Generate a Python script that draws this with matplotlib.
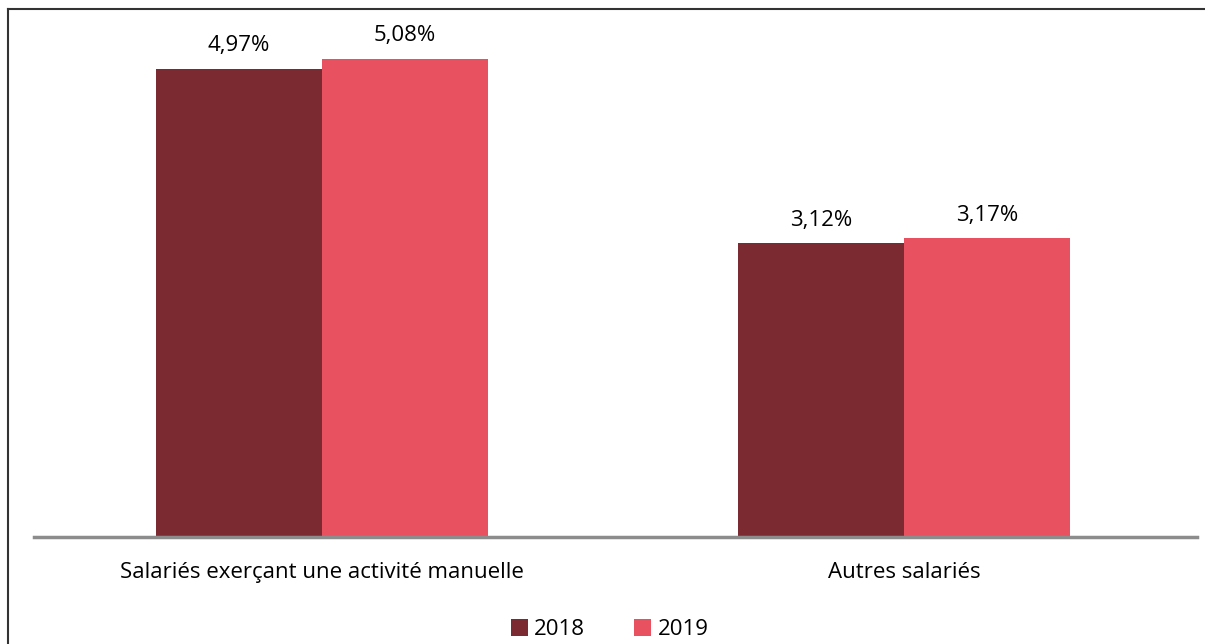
import numpy as np
import matplotlib.pyplot as plt
from matplotlib.lines import Line2D

categories = ['Salariés exerçant une activité manuelle', 'Autres salariés']
years = ['2018', '2019']
vals_2018 = [4.97, 3.12]
vals_2019 = [5.08, 3.17]
colors = ['#7B2A31', '#E85260']

plt.rcParams['font.family'] = ['Open Sans', 'DejaVu Sans']

fig = plt.figure(figsize=(12.05, 6.44), dpi=100)
ax = fig.add_axes([0.0282, 0.1661, 0.9651, 0.8043])

r = np.arange(len(categories))
width = 0.285

b1 = ax.bar(r - width / 2, vals_2018, width=width, color=colors[0], label=years[0])
b2 = ax.bar(r + width / 2, vals_2019, width=width, color=colors[1], label=years[1])

for bars, vals in [(b1, vals_2018), (b2, vals_2019)]:
    for b, v in zip(bars, vals):
        ax.annotate(('%.2f' % v).replace('.', ',') + '%',
                    (b.get_x() + b.get_width() / 2, v),
                    xytext=(0, 9), textcoords='offset points',
                    ha='center', va='bottom', fontsize=16)

ax.set_xlim(-0.495, 1.503)
ax.set_ylim(0, 5.5)
ax.set_yticks([])
ax.set_xticks(r)
ax.set_xticklabels(categories, fontsize=16)
ax.tick_params(axis='x', length=0, pad=18)
for s in ['top', 'right', 'left']:
    ax.spines[s].set_visible(False)
ax.spines['bottom'].set_color('#8C8C8C')
ax.spines['bottom'].set_linewidth(2.5)

ax.legend(loc='upper center', bbox_to_anchor=(0.495, -0.133), ncol=2, frameon=False,
          fontsize=16, handlelength=0.75, handleheight=0.75, handletextpad=0.3,
          columnspacing=2.2, borderpad=0.1)

# outer frame (top and left edges)
fig.add_artist(Line2D([8 / 1205, 1], [1 - 9 / 644, 1 - 9 / 644], color='#333333', lw=1.5))
fig.add_artist(Line2D([8 / 1205, 8 / 1205], [0, 1 - 9 / 644], color='#333333', lw=1.5))

plt.savefig('out.png', dpi=100)
